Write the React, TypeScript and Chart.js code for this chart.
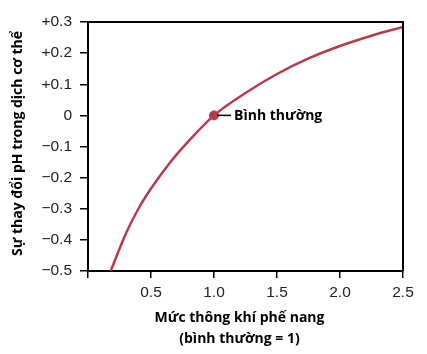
import React, { useEffect, useRef } from "react";
import { Chart, registerables } from "chart.js";

Chart.register(...registerables);

const ventilation = [0.18, 0.3, 0.4, 0.5, 0.65, 0.8, 1.0, 1.25, 1.5, 1.75, 2.0, 2.25, 2.5];
const phChange = [-0.5, -0.38, -0.3, -0.235, -0.152, -0.082, 0, 0.072, 0.133, 0.183, 0.223, 0.256, 0.284];
const normalPoint = { x: 1.0, y: 0 };
const normalLabel = "Bình thường";
const yTitle = "Sự thay đổi pH trong dịch cơ thể";
const xTitleLines = ["Mức thông khí phế nang", "(bình thường = 1)"];

const LINE_COLOR = "#b83a4b";
const TITLE_FONT = "bold 14px 'Open Sans', 'Noto Sans', sans-serif";

const overlayPlugin = {
  id: "overlay",
  afterDraw(chart: any) {
    const { ctx, chartArea, scales } = chart;
    const xs = scales.x;
    const ys = scales.y;
    ctx.save();
    ctx.strokeStyle = "#000";
    ctx.lineWidth = 2;
    ctx.beginPath();
    ctx.moveTo(chartArea.left, chartArea.top);
    ctx.lineTo(chartArea.right, chartArea.top);
    ctx.lineTo(chartArea.right, chartArea.bottom);
    ctx.stroke();

    const px = xs.getPixelForValue(normalPoint.x);
    const py = ys.getPixelForValue(normalPoint.y);
    ctx.lineWidth = 1.5;
    ctx.beginPath();
    ctx.moveTo(px + 3, py);
    ctx.lineTo(px + 17, py);
    ctx.stroke();
    ctx.fillStyle = "#000";
    ctx.font = TITLE_FONT;
    ctx.textAlign = "left";
    ctx.textBaseline = "middle";
    ctx.fillText(normalLabel, px + 20, py + 1);

    ctx.save();
    ctx.translate(18, (chartArea.top + chartArea.bottom) / 2 - 3);
    ctx.rotate(-Math.PI / 2);
    ctx.textAlign = "center";
    ctx.textBaseline = "middle";
    ctx.fillText(yTitle, 0, 0);
    ctx.restore();

    ctx.textAlign = "center";
    ctx.textBaseline = "middle";
    const cx = (chartArea.left + chartArea.right) / 2 - 6;
    ctx.fillText(xTitleLines[0], cx, 318);
    ctx.fillText(xTitleLines[1], cx, 339);
    ctx.restore();
  },
};

export default function App() {
  const ref = useRef<HTMLCanvasElement>(null);
  useEffect(() => {
    document.body.style.margin = "0";
    if (!ref.current) return;
    const chart = new Chart(ref.current, {
      type: "line",
      data: {
        datasets: [
          {
            data: ventilation.map((v, i) => ({ x: v, y: phChange[i] })),
            borderColor: LINE_COLOR,
            borderWidth: 2.5,
            pointRadius: 0,
            cubicInterpolationMode: "monotone",
            fill: false,
          },
          {
            data: [normalPoint],
            borderColor: LINE_COLOR,
            backgroundColor: LINE_COLOR,
            pointRadius: 4.5,
            showLine: false,
          },
        ],
      },
      options: {
        animation: false,
        responsive: false,
        maintainAspectRatio: false,
        layout: { padding: { left: 0, right: 24, top: 22, bottom: 0 } },
        plugins: { legend: { display: false }, tooltip: { enabled: false } },
        scales: {
          x: {
            type: "linear",
            min: 0,
            max: 2.5,
            afterFit: (s: any) => {
              s.height = 83;
            },
            ticks: {
              stepSize: 0.5,
              padding: 5,
              color: "#222",
              font: { family: "'Liberation Sans', Arial, sans-serif", size: 15.5 },
              callback: (v: any) => (Math.abs(v) < 1e-9 ? "" : Number(v).toFixed(1)),
            },
            grid: { display: true, drawOnChartArea: false, drawTicks: true, tickLength: 7, color: "#000", lineWidth: 1.5 },
            border: { color: "#000", width: 2 },
          },
          y: {
            min: -0.5,
            max: 0.3,
            afterFit: (s: any) => {
              s.width = 88;
            },
            ticks: {
              stepSize: 0.1,
              padding: 8,
              color: "#222",
              font: { family: "'Liberation Sans', Arial, sans-serif", size: 15.5 },
              callback: (v: any) => {
                const r = Math.round(Number(v) * 10) / 10;
                if (r === 0) return "0";
                return r > 0 ? "+" + r.toFixed(1) : "\u2212" + Math.abs(r).toFixed(1);
              },
            },
            grid: { display: true, drawOnChartArea: false, drawTicks: true, tickLength: 8, color: "#000", lineWidth: 1.5 },
            border: { color: "#000", width: 2 },
          },
        },
      },
      plugins: [overlayPlugin],
    } as any);
    return () => chart.destroy();
  }, []);
  return (
    <div style={{ width: 427, height: 354, position: "relative" }}>
      <canvas ref={ref} width={427} height={354} style={{ display: "block" }} />
    </div>
  );
}
